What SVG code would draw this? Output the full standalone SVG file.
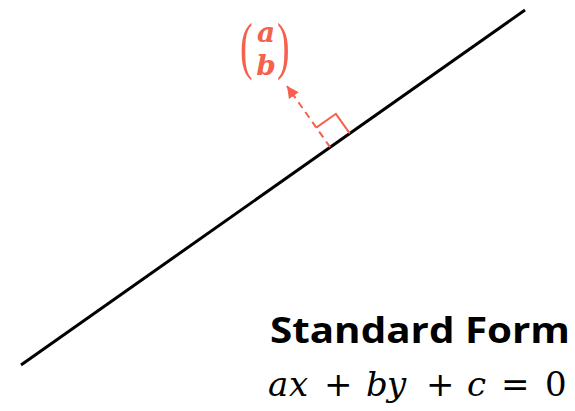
<svg xmlns="http://www.w3.org/2000/svg" width="575" height="411" viewBox="0 0 575 411">
<defs>
<style>
.ln{stroke:#000;stroke-width:3;fill:none}
.vec{stroke:#f4614d;stroke-width:2;fill:none}
.paren{font-family:"Liberation Serif",serif;font-size:63px;fill:#f4614d}
.var{font-family:"DejaVu Serif",serif;font-size:28px;font-weight:bold;font-style:italic;fill:#f4614d}
.title{font-family:"Open Sans","Noto Sans",sans-serif;font-weight:bold;font-size:35px;fill:#000}
.math{font-family:"DejaVu Serif",serif;font-size:34px;fill:#000}
.it{font-style:italic}
</style>
<marker id="ah" markerWidth="12" markerHeight="12" refX="12" refY="6" orient="auto" markerUnits="userSpaceOnUse">
<path d="M0,0 L12,6 L0,12 Z" fill="#f4614d"/>
</marker>
</defs>
<g id="line"><line class="ln" x1="21" y1="365" x2="525" y2="10"/></g>
<g id="connectors">
<line class="vec" x1="330.1" y1="147.2" x2="287" y2="86" stroke-dasharray="7,5" marker-end="url(#ah)"/>
<path class="vec" d="M316.3,127.6 L335.9,113.8 L349.7,133.4"/>
</g>
<g id="vector-label">
<text class="paren" transform="translate(240,67) scale(0.6,1)">(</text>
<text class="paren" transform="translate(277,67) scale(0.6,1)">)</text>
<text x="266" y="42" class="var" text-anchor="middle">a</text>
<text x="266" y="75" class="var" text-anchor="middle">b</text>
</g>
<g id="title">
<text x="270" y="343" class="title" textLength="300" lengthAdjust="spacingAndGlyphs">Standard Form</text>
<text y="396" class="math"><tspan class="it" x="268">a</tspan><tspan class="it" x="289">x</tspan><tspan x="324">+</tspan><tspan class="it" x="366">b</tspan><tspan class="it" x="387">y</tspan><tspan x="426">+</tspan><tspan class="it" x="467">c</tspan><tspan x="501">=</tspan><tspan x="545">0</tspan></text>
</g>
</svg>
